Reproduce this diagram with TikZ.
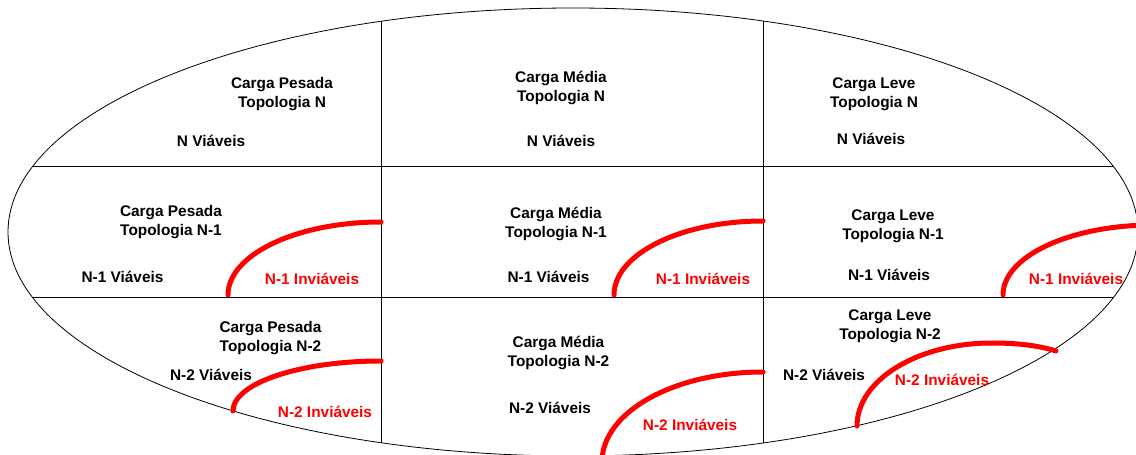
\documentclass[tikz,border=0pt]{standalone}
\usepackage{fontspec}
\setmainfont{Liberation Sans}
\begin{document}
\begin{tikzpicture}[x=1pt,y=-1pt,
  lbl/.style={font=\fontsize{15.4}{19}\selectfont\bfseries, inner sep=0pt, align=center},
  single/.style={lbl, anchor=base},
  bad/.style={single, text=red},
  grid/.style={line width=0.8pt, black},
  border/.style={line width=0.8pt, black},
  redarc/.style={line width=5pt, red, line cap=round}]
\useasboundingbox (0,0) rectangle (1136,455);
\clip (0,0) rectangle (1136,455);
\fill[white] (0,0) rectangle (1136,455);
% ellipse and grid lines
\draw[border] (573,232) ellipse [x radius=565pt, y radius=224pt];
\begin{scope}
  \clip (573,232) ellipse [x radius=565pt, y radius=224pt];
  \draw[grid] (0,166) -- (1136,166);
  \draw[grid] (0,297) -- (1136,297);
  \draw[grid] (381,0) -- (381,455);
  \draw[grid] (763,0) -- (763,455);
\end{scope}
% red boundaries
\draw[redarc] (228,295) .. controls (228,254.7) and (296.5,222) .. (381,222);
\draw[redarc] (614,295) .. controls (614,254.1) and (680.7,221) .. (763,221);
\draw[redarc] (1003,295) .. controls (1003,256.3) and (1070.2,225) .. (1153,225);
\draw[redarc] (233,411) .. controls (233,383.4) and (299.3,361) .. (381,361);
\draw[redarc] (602,462) .. controls (602,412) and (674.1,372) .. (763,372);
\draw[redarc] (857,426) .. controls (857,380.2) and (917.4,343) .. (992,343)
                       .. controls (1020,343) and (1040,346) .. (1056,351);
% top row
\node[lbl] (tl) at (282,94) {Carga Pesada\\Topologia N};
\node[lbl] (tm) at (561,88) {Carga Média\\Topologia N};
\node[lbl] (tr) at (874,94) {Carga Leve\\Topologia N};
\node[single] (tlv) at (211,146.5) {N Viáveis};
\node[single] (tmv) at (561,146.5) {N Viáveis};
\node[single] (trv) at (871,144.5) {N Viáveis};
% middle row
\node[lbl] (ml) at (171,222.5) {Carga Pesada\\Topologia N-1};
\node[lbl] (mm) at (556,224) {Carga Média\\Topologia N-1};
\node[lbl] (mr) at (893,226) {Carga Leve\\Topologia N-1};
\node[single] (mlv) at (122.5,282.5) {N-1 Viáveis};
\node[single] (mmv) at (548.5,282.5) {N-1 Viáveis};
\node[single] (mrv) at (889,280.5) {N-1 Viáveis};
\node[bad] (mli) at (312,284.5) {N-1 Inviáveis};
\node[bad] (mmi) at (703,284.5) {N-1 Inviáveis};
\node[bad] (mri) at (1076,284.5) {N-1 Inviáveis};
% bottom row
\node[lbl] (bl) at (270.5,338) {Carga Pesada\\Topologia N-2};
\node[lbl] (bm) at (558.5,352.5) {Carga Média\\Topologia N-2};
\node[lbl] (br) at (890,326.5) {Carga Leve\\Topologia N-2};
\node[single] (blv) at (211,380.5) {N-2 Viáveis};
\node[single] (bmv) at (550,413.5) {N-2 Viáveis};
\node[single] (brv) at (824,380.5) {N-2 Viáveis};
\node[bad] (bli) at (325,417.5) {N-2 Inviáveis};
\node[bad] (bmi) at (690,430.5) {N-2 Inviáveis};
\node[bad] (bri) at (942,385.5) {N-2 Inviáveis};
\end{tikzpicture}
\end{document}
